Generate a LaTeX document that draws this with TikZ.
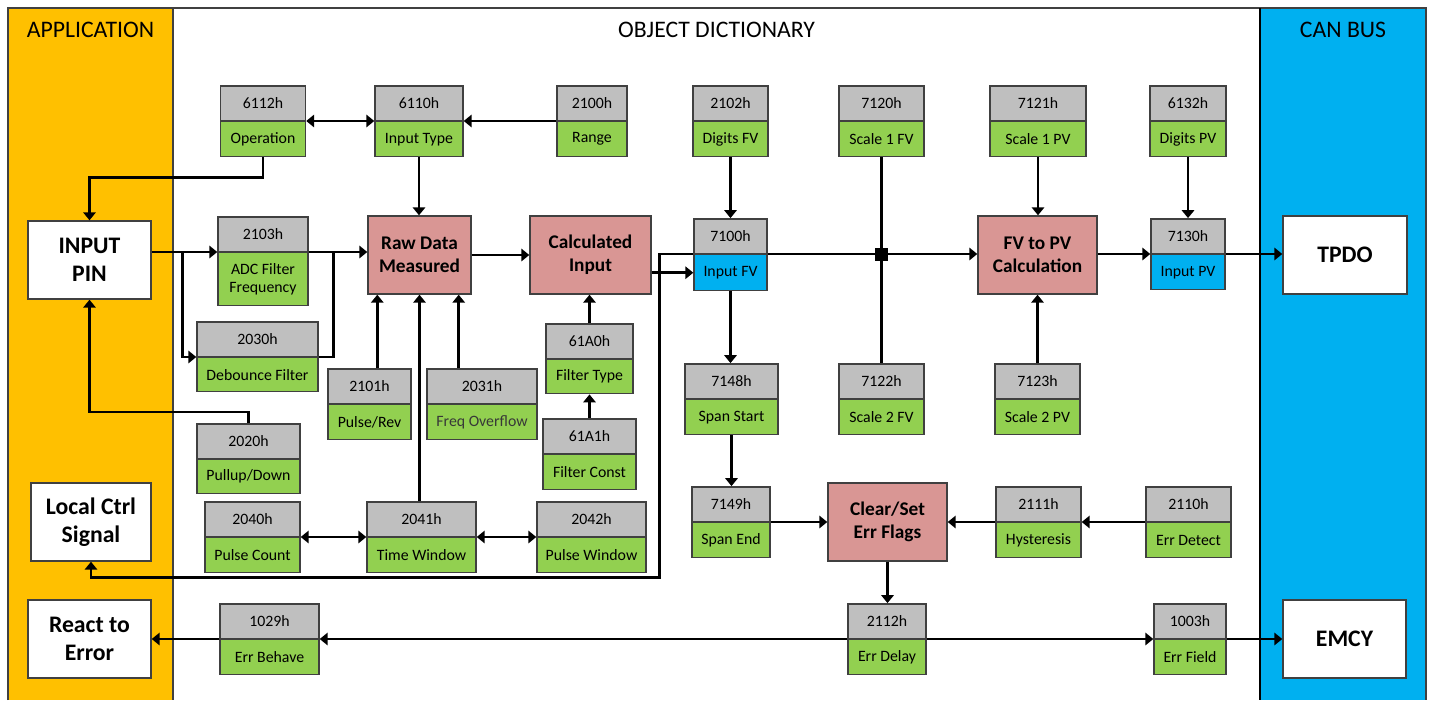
\documentclass[tikz,border=0pt]{standalone}
\usepackage{fontspec}
\setmainfont{Carlito}
\usetikzlibrary{arrows.meta}
\definecolor{appbg}{HTML}{FFC000}
\definecolor{canbg}{HTML}{00B0F0}
\definecolor{idgray}{HTML}{BFBFBF}
\definecolor{idgreen}{HTML}{92D050}
\definecolor{idblue}{HTML}{00B0F0}
\definecolor{calcred}{HTML}{D99694}
\definecolor{boxline}{HTML}{404040}
\begin{document}
\begin{tikzpicture}[x=0.02cm,y=-0.02cm,
    >={Triangle[length=4.5pt,width=7pt]},
    link/.style={line width=1.5pt},
    regtop/.style={draw=boxline,line width=0.8pt,fill=idgray,minimum height=34.5*0.02cm,
      inner sep=0pt,font=\fontsize{9}{10.5}\selectfont},
    regbot/.style={draw=boxline,line width=0.8pt,inner sep=0pt,align=center,
      font=\fontsize{9}{10.5}\selectfont},
    iobox/.style={draw=boxline,line width=0.8pt,fill=white,align=center,inner sep=0pt,
      minimum height=78*0.02cm,font=\fontsize{13.5}{16}\selectfont\bfseries},
    calcbox/.style={draw=boxline,line width=0.8pt,fill=calcred,align=center,inner sep=0pt,
      minimum height=78*0.02cm,font=\fontsize{11}{13}\selectfont\bfseries},
    heading/.style={font=\fontsize{13.5}{16}\selectfont}]
  \useasboundingbox (0,0) rectangle (1429,700);

  % the three columns
  \fill[appbg] (8,8) rectangle (173,700);
  \fill[canbg] (1260,8) rectangle (1426,700);
  \draw[boxline,line width=0.8pt] (8,700) -- (8,8) -- (1426,8) -- (1426,700);
  \draw[boxline,line width=0.8pt] (173,8) -- (173,700);
  \draw[black,line width=1pt] (1260,8) -- (1260,700);
  \node[heading] (happ) at (90.5,30) {APPLICATION};
  \node[heading] (hod) at (716.5,30) {OBJECT DICTIONARY};
  \node[heading] (hcan) at (1343,30) {CAN BUS};

  %% the registers: index / x / divider y / width / lower height / colour / name
  \foreach \id/\cx/\dy/\w/\hb/\col/\txt in {
      6112/263/121/85/35/idgreen/Operation,
      6110/419/121/88/35/idgreen/{Input Type},
      2100/592/121/70/35/idgreen/Range,
      2102/730.5/121/75/35/idgreen/{Digits FV},
      7120/881.5/121/85/35/idgreen/{Scale 1 FV},
      7121/1038/121/96/35/idgreen/{Scale 1 PV},
      6132/1188/121/76/35/idgreen/{Digits PV},
      2103/263/252/90/53/idgreen/{ADC Filter\\Frequency},
      7100/730.5/254/73/36/idblue/{Input FV},
      7130/1188/254/74/35/idblue/{Input PV},
      2030/257.5/357/121/34/idgreen/{Debounce Filter},
      2101/369.5/404/83/35/idgreen/{Pulse/Rev},
      2031/482/404/110/35/idgreen/{\color{black!78}Freq Overflow},
      61A0/589.5/359/87/34/idgreen/{Filter Type},
      61A1/589.5/454/93/35/idgreen/{Filter Const},
      7148/731.5/399/93/35/idgreen/{Span Start},
      7122/881.5/399/85/35/idgreen/{Scale 2 FV},
      7123/1037.5/399/85/35/idgreen/{Scale 2 PV},
      2020/248.5/459/103/34/idgreen/{Pullup/Down},
      2040/252.5/537/95/35/idgreen/{Pulse Count},
      2041/421.5/537/109/35/idgreen/{Time Window},
      2042/591.5/537/109/35/idgreen/{Pulse Window},
      7149/731/522/78/35/idgreen/{Span End},
      2111/1038.5/522/85/35/idgreen/Hysteresis,
      2110/1188.5/522/85/35/idgreen/{Err Detect},
      1029/269.5/639/99/35/idgreen/{Err Behave},
      2112/887/639/78/35/idgreen/{Err Delay},
      1003/1190/639/72/35/idgreen/{Err Field}}
  {
    \node[regtop,minimum width=\w*0.02cm,anchor=south] (t\id) at (\cx,\dy) {\id h};
    \node[regbot,fill=\col,minimum width=\w*0.02cm,minimum height=\hb*0.02cm,anchor=north]
      (b\id) at (\cx,\dy) {\txt};
  }

  % application side
  \node[iobox,minimum width=123*0.02cm] (pin) at (89.5,260) {INPUT\\PIN};
  \node[iobox,minimum width=120*0.02cm] (local) at (91,522) {Local Ctrl\\Signal};
  \node[iobox,minimum width=123*0.02cm] (react) at (89.5,639) {React to\\Error};
  % bus side
  \node[iobox,minimum width=124*0.02cm] (tpdo) at (1345,255) {TPDO};
  \node[iobox,minimum width=123*0.02cm] (emcy) at (1344.5,639) {EMCY};
  % calculations
  \node[calcbox,minimum width=103*0.02cm] (raw) at (419.5,255) {Raw Data\\Measured};
  \node[calcbox,minimum width=121*0.02cm] (calc) at (590.5,255) {Calculated\\Input};
  \node[calcbox,minimum width=119*0.02cm] (fvpv) at (1037.5,255) {FV to PV\\Calculation};
  \node[calcbox,minimum width=119*0.02cm] (clr) at (887.5,522) {Clear/Set\\Err Flags};

  % input chain
  \draw[link,<->] (t6112.south east) -- (t6110.south west);
  \draw[link,->] (t2100.south west) -- (t6110.south east);
  \draw[link,->] (b6110.south) -- (b6110.south |- raw.north);
  \draw[link,->] (b6112.south) -- ++(0,20) -| (pin.north);
  \draw[link,->] (t2020.north) -- ++(0,-11) -| (pin.south);
  \draw[link,->] (pin.east |- t2103.south west) -- (t2103.south west);
  \draw[link,->] (pin.east |- t2103.south west) ++(31,0) |- (t2030.south west);
  \draw[link,->] (t2103.south east) -- (t2103.south east -| raw.west);
  \draw[link] (t2030.south east) -- ++(15,0) |- (t2103.south east);
  \draw[link,->] ([xshift=0.2cm]raw.south west |- t2101.north) -- ([xshift=0.2cm]raw.south west);
  \draw[link,->] (t2041.north -| raw.south) -- (raw.south);
  \draw[link,->] ([xshift=-0.26cm]raw.south east |- t2031.north) -- ([xshift=-0.26cm]raw.south east);
  \draw[link,<->] (t2040.south east) -- (t2041.south west);
  \draw[link,<->] (t2041.south east) -- (t2042.south west);
  \draw[link,->] (raw.east) -- (calc.west);
  \draw[link,->] (t61A1.north) -- (b61A0.south);
  \draw[link,->] (t61A0.north) -- (t61A0.north |- calc.south);
  \draw[link,->] (calc.east |- b7100.west) -- (b7100.west);

  % field value to process value
  \draw[link,->] (b2102.south) -- (b2102.south |- t7100.north);
  \draw[link,->] (t7100.south west) -- ++(-34,0) |- ([yshift=-0.32cm]local.south) -- (local.south);
  \draw[link,->] (t7100.south east) -- (t7100.south east -| fvpv.west);
  \draw[link] (b7120.south) -- (b7120.south |- t7122.north);
  \node[fill=black,minimum size=0.26cm,inner sep=0pt] (jn) at (b7120.south |- t7100.south) {};
  \draw[link,->] (b7121.south) -- (b7121.south |- fvpv.north);
  \draw[link,->] (t7123.north) -- (t7123.north |- fvpv.south);
  \draw[link,->] (fvpv.east |- t7130.south west) -- (t7130.south west);
  \draw[link,->] (b6132.south) -- (b6132.south |- t7130.north);
  \draw[link,->] (t7130.south east) -- (t7130.south east -| tpdo.west);

  % error handling
  \draw[link,->] (b7100.south) -- (b7100.south |- t7148.north);
  \draw[link,->] (b7148.south) -- (b7148.south |- t7149.north);
  \draw[link,->] (t7149.south east) -- (t7149.south east -| clr.west);
  \draw[link,->] (t2111.south west) -- (t2111.south west -| clr.east);
  \draw[link,->] (t2110.south west) -- (t2111.south east);
  \draw[link,->] (clr.south) -- (clr.south |- t2112.north);
  \draw[link,->] (t2112.south west) -- (t1029.south east);
  \draw[link,->] (t1029.south west) -- (t1029.south west -| react.east);
  \draw[link,->] (t2112.south east) -- (t1003.south west);
  \draw[link,->] (t1003.south east) -- (t1003.south east -| emcy.west);
\end{tikzpicture}
\end{document}
